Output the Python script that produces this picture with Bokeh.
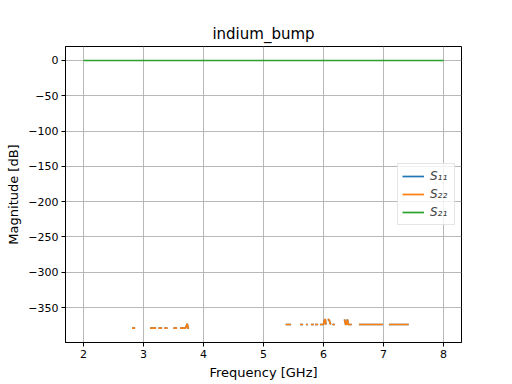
import numpy as np
from bokeh.plotting import figure
from bokeh.models import FixedTicker, Legend, LegendItem, Range1d
from bokeh.embed import file_html
from bokeh.resources import INLINE

nan = float("nan")

# S21: flat at 0 dB across the band
s21_freq = [2.0, 3.0, 4.0, 5.0, 6.0, 7.0, 8.0]
s21_db = [0.0, 0.0, 0.0, 0.0, 0.0, 0.0, 0.0]

# S22: mostly -inf; only scattered finite numerical-noise fragments remain
s22_freq = [2.81, 2.86, nan,
            3.11, 3.21, nan,
            3.25, 3.31, nan,
            3.35, 3.40, nan,
            3.50, 3.56, nan,
            3.61, 3.70, 3.73, 3.74, 3.76, nan,
            5.37, 5.46, nan,
            5.61, 5.66, nan,
            5.71, 5.74, nan,
            5.79, 5.84, nan,
            5.86, 5.91, nan,
            5.94, 6.00, 6.02, 6.03, 6.04, nan,
            6.07, 6.09, 6.12, nan,
            6.15, 6.19, nan,
            6.35, 6.37, 6.38, 6.40, 6.41, 6.47, nan,
            6.59, 6.99, nan,
            7.09, 7.42]
s22_db = [-379, -379, nan,
          -379, -379, nan,
          -379, -379, nan,
          -379, -379, nan,
          -379, -379, nan,
          -379, -379, -373, -379, -379, nan,
          -374, -374, nan,
          -374, -374, nan,
          -374, -374, nan,
          -374, -374, nan,
          -374, -374, nan,
          -374, -374, -367, -367, -374, nan,
          -367, -367, -374, nan,
          -374, -374, nan,
          -367, -374, -374, -367, -374, -374, nan,
          -374, -374, nan,
          -374, -374]

# S11: same noise floor, drawn first (hidden beneath S22)
s11_freq = list(s22_freq)
s11_db = list(s22_db)

x_ticks = [2, 3, 4, 5, 6, 7, 8]
y_ticks = [0, -50, -100, -150, -200, -250, -300, -350]

FONT = "DejaVu Sans"

p = figure(width=512, height=384, output_backend="svg", toolbar_location=None,
           x_range=Range1d(1.7, 8.3), y_range=Range1d(-399.5, 19.8),
           min_border_left=65, min_border_right=51, min_border_top=46,
           min_border_bottom=42)

p.title.text = "indium_bump"
p.title.align = "center"
p.title.text_font = FONT
p.title.text_font_size = "15px"
p.title.text_font_style = "normal"
p.title.text_color = "#000000"
p.title.offset = 0
p.title.standoff = 7

p.outline_line_color = "#000000"
p.outline_line_width = 1
p.background_fill_color = "#ffffff"
p.border_fill_color = "#ffffff"

for ax in (p.xaxis[0], p.yaxis[0]):
    ax.major_label_text_font = FONT
    ax.major_label_text_font_size = "11px"
    ax.major_label_text_color = "#000000"
    ax.axis_label_text_font = FONT
    ax.axis_label_text_font_size = "13px"
    ax.axis_label_text_font_style = "normal"
    ax.axis_label_text_color = "#000000"
    ax.axis_line_color = "#000000"
    ax.major_tick_line_color = "#000000"
    ax.major_tick_out = 4
    ax.major_tick_in = 0
    ax.minor_tick_line_color = None
    ax.axis_label_standoff = 4
    ax.major_label_standoff = 3

p.xaxis.axis_label = "Frequency [GHz]"
p.yaxis.axis_label = "Magnitude [dB]"
p.xaxis.ticker = FixedTicker(ticks=x_ticks)
p.yaxis.ticker = FixedTicker(ticks=y_ticks)
p.xaxis.major_label_overrides = {t: str(t) for t in x_ticks}
p.yaxis.major_label_overrides = {t: ("\u2212" + str(-t) if t < 0 else str(t)) for t in y_ticks}

p.xgrid.grid_line_color = "#b0b0b0"
p.ygrid.grid_line_color = "#b0b0b0"
p.xgrid.grid_line_width = 0.9
p.ygrid.grid_line_width = 0.9

r11 = p.line(s11_freq, s11_db, line_color="#1f77b4", line_width=1.7)
r22 = p.line(s22_freq, s22_db, line_color="#ff7f0e", line_width=1.7)
r21 = p.line(s21_freq, s21_db, line_color="#2ca02c", line_width=1.7)

legend = Legend(items=[LegendItem(label="S\u2081\u2081", renderers=[r11]),
                       LegendItem(label="S\u2082\u2082", renderers=[r22]),
                       LegendItem(label="S\u2082\u2081", renderers=[r21])],
                location=(332, 117))
legend.label_text_font = FONT
legend.label_text_font_size = "12px"
legend.label_text_font_style = "italic"
legend.glyph_width = 22
legend.glyph_height = 16
legend.label_height = 16
legend.spacing = 2
legend.padding = 4
legend.margin = 0
legend.label_standoff = 6
legend.border_line_color = "#cccccc"
legend.border_line_width = 1
legend.background_fill_alpha = 0.8
p.add_layout(legend)

open("out.html", "w").write(file_html(p, INLINE))
